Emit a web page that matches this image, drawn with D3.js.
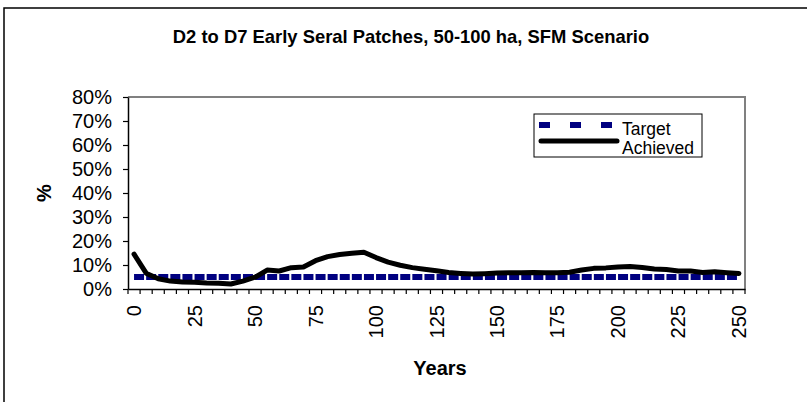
<!DOCTYPE html>
<html>
<head>
<meta charset="utf-8">
<script src="https://cdn.jsdelivr.net/npm/d3@7"></script>
<style>
  html, body { margin: 0; padding: 0; background: #fff; }
  text { font-family: Arial, "Liberation Sans", sans-serif; }
</style>
</head>
<body>
<div id="chart"></div>
<script>
// years on the category axis
const years = d3.range(0, 251, 5);
// target level, constant 5%
const target = years.map(() => 0.05);
// achieved share of early seral patches
const achieved = [
  0.145, 0.066, 0.043, 0.033, 0.029, 0.028, 0.025, 0.024, 0.021, 0.033,
  0.049, 0.079, 0.075, 0.089, 0.092, 0.118, 0.135, 0.144, 0.149, 0.153,
  0.131, 0.112, 0.099, 0.089, 0.082, 0.076, 0.069, 0.065, 0.062, 0.064,
  0.067, 0.068, 0.068, 0.069, 0.068, 0.068, 0.070, 0.079, 0.086, 0.088,
  0.092, 0.094, 0.090, 0.083, 0.081, 0.075, 0.075, 0.069, 0.072, 0.068,
  0.065
];
const yTicks = [0, 0.1, 0.2, 0.3, 0.4, 0.5, 0.6, 0.7, 0.8];
const labelYears = years.filter(d => d % 25 === 0);

const width = 807, height = 402;
const plot = { left: 128, right: 745, top: 97, bottom: 289 };

const svg = d3.select("#chart").append("svg")
    .attr("width", width)
    .attr("height", height);

// chart frame
svg.append("rect")
    .attr("x", 4).attr("y", 8)
    .attr("width", 900).attr("height", 500)
    .attr("fill", "none")
    .attr("stroke", "#000")
    .attr("stroke-width", 1.5);

const x = d3.scaleBand()
    .domain(years)
    .range([plot.left, plot.right])
    .padding(0);

const cx = d => x(d) + x.bandwidth() / 2;

const y = d3.scaleLinear()
    .domain([0, 0.8])
    .range([plot.bottom, plot.top]);

// plot area border (top and right in gray)
svg.append("path")
    .attr("d", `M${plot.left},${plot.top}H${plot.right}V${plot.bottom}`)
    .attr("fill", "none")
    .attr("stroke", "#808080")
    .attr("stroke-width", 2);

// title
svg.append("text")
    .attr("x", 411).attr("y", 43)
    .attr("text-anchor", "middle")
    .attr("font-size", "18.4px")
    .attr("font-weight", "bold")
    .text("D2 to D7 Early Seral Patches, 50-100 ha, SFM Scenario");

// y axis
const yAxis = svg.append("g")
    .attr("transform", `translate(${plot.left},0)`)
    .call(d3.axisLeft(y).tickValues(yTicks).tickFormat(d3.format(".0%")).tickSize(5).tickSizeOuter(0));
yAxis.select(".domain").attr("stroke", "#000").attr("stroke-width", 1.5);
yAxis.selectAll(".tick line").attr("stroke", "#000").attr("stroke-width", 1.2);
yAxis.selectAll(".tick text")
    .attr("x", -16)
    .attr("font-size", "20px")
    .attr("fill", "#000");

// x axis: labels every 25 years, tick marks between categories
const xAxis = svg.append("g")
    .attr("transform", `translate(0,${plot.bottom})`)
    .call(d3.axisBottom(x).tickValues(labelYears).tickSize(0).tickSizeOuter(0));
xAxis.select(".domain").attr("stroke", "#000").attr("stroke-width", 1.5);
xAxis.selectAll(".tick text")
    .attr("font-size", "20px")
    .attr("fill", "#000")
    .attr("text-anchor", "end")
    .attr("dominant-baseline", "central")
    .attr("transform", "rotate(-90)")
    .attr("x", -16)
    .attr("y", 0)
    .attr("dy", null);

const bounds = years.map(d => x(d)).concat([plot.right]);
svg.append("g")
    .selectAll("line")
    .data(bounds)
    .enter()
    .append("line")
    .attr("x1", d => d).attr("x2", d => d)
    .attr("y1", plot.bottom).attr("y2", plot.bottom + 5)
    .attr("stroke", "#000")
    .attr("stroke-width", 1.2);

// axis titles
svg.append("text")
    .attr("transform", "translate(44,193) rotate(-90)")
    .attr("text-anchor", "middle")
    .attr("dominant-baseline", "central")
    .attr("font-size", "20px")
    .attr("font-weight", "bold")
    .text("%");

svg.append("text")
    .attr("x", 440).attr("y", 375)
    .attr("text-anchor", "middle")
    .attr("font-size", "20px")
    .attr("font-weight", "bold")
    .text("Years");

// series
const line = d3.line()
    .x((d, i) => cx(years[i]))
    .y(d => y(d));

svg.append("path")
    .datum(target)
    .attr("d", line)
    .attr("fill", "none")
    .attr("stroke", "#000080")
    .attr("stroke-width", 6)
    .attr("stroke-dasharray", "10,2.1");

svg.append("path")
    .datum(achieved)
    .attr("d", line)
    .attr("fill", "none")
    .attr("stroke", "#000")
    .attr("stroke-width", 5)
    .attr("stroke-linejoin", "round")
    .attr("stroke-linecap", "round");

// legend
const legend = svg.append("g");
legend.append("rect")
    .attr("x", 534).attr("y", 114)
    .attr("width", 168).attr("height", 43)
    .attr("fill", "#fff")
    .attr("stroke", "#000")
    .attr("stroke-width", 1);

legend.append("line")
    .attr("x1", 539).attr("x2", 613)
    .attr("y1", 125).attr("y2", 125)
    .attr("stroke", "#000080")
    .attr("stroke-width", 6)
    .attr("stroke-dasharray", "11,20");

legend.append("line")
    .attr("x1", 541).attr("x2", 617)
    .attr("y1", 141).attr("y2", 141)
    .attr("stroke", "#000")
    .attr("stroke-width", 5)
    .attr("stroke-linecap", "round");

legend.append("text")
    .attr("x", 622).attr("y", 134.5)
    .attr("font-size", "17.5px")
    .text("Target");

legend.append("text")
    .attr("x", 622).attr("y", 154)
    .attr("font-size", "17.5px")
    .text("Achieved");
</script>
</body>
</html>
